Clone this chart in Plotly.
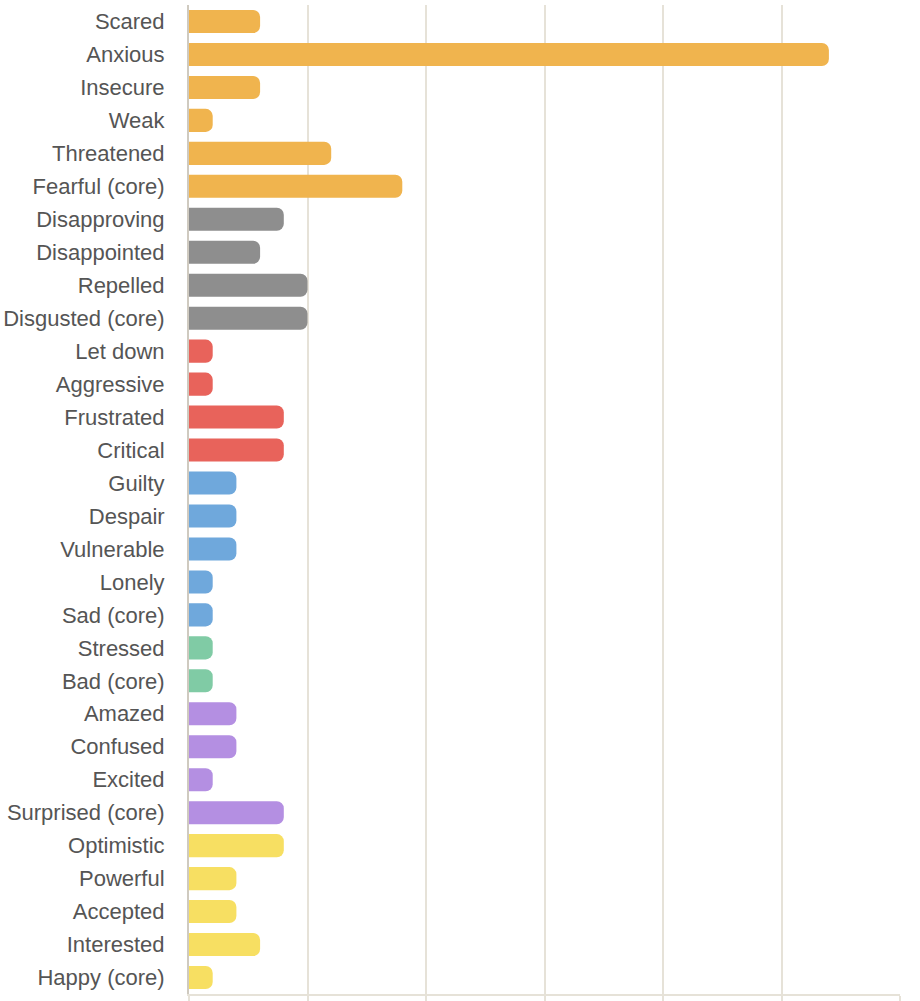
import plotly.graph_objects as go

# data
emotions = ["Scared", "Anxious", "Insecure", "Weak", "Threatened", "Fearful (core)",
            "Disapproving", "Disappointed", "Repelled", "Disgusted (core)",
            "Let down", "Aggressive", "Frustrated", "Critical",
            "Guilty", "Despair", "Vulnerable", "Lonely", "Sad (core)",
            "Stressed", "Bad (core)",
            "Amazed", "Confused", "Excited", "Surprised (core)",
            "Optimistic", "Powerful", "Accepted", "Interested", "Happy (core)"]
counts = [3, 27, 3, 1, 6, 9,
          4, 3, 5, 5,
          1, 1, 4, 4,
          2, 2, 2, 1, 1,
          1, 1,
          2, 2, 1, 4,
          4, 2, 2, 3, 1]
groups = ["Fearful"] * 6 + ["Disgusted"] * 4 + ["Angry"] * 4 + ["Sad"] * 5 + \
         ["Bad"] * 2 + ["Surprised"] * 4 + ["Happy"] * 5

group_colors = {
    "Fearful": "#F0B44E",
    "Disgusted": "#8E8E8E",
    "Angry": "#E8635B",
    "Sad": "#6FA8DC",
    "Bad": "#80CBA5",
    "Surprised": "#B48FE2",
    "Happy": "#F7DF62",
}

fig = go.Figure(go.Bar(
    x=counts, y=emotions, orientation="h",
    marker=dict(color=[group_colors[g] for g in groups], line=dict(width=0)),
    hoverinfo="x+y",
))

fig.update_layout(
    width=920, height=1001,
    margin=dict(l=189, r=20, t=5, b=7),
    paper_bgcolor="white", plot_bgcolor="white",
    bargap=0.3, barcornerradius=7,
    showlegend=False,
    font=dict(family="Liberation Sans, Arial, sans-serif", size=22, color="#555555"),
)
fig.update_xaxes(range=[0, 30], dtick=5, showgrid=True, gridcolor="#E6E2D8", gridwidth=2,
                 showticklabels=False, ticks="outside", ticklen=7, tickcolor="#E6E2D8",
                 tickwidth=2, zeroline=False, showline=True, linecolor="#E6E2D8", linewidth=2,
                 automargin=False)
fig.update_yaxes(autorange="reversed", ticks="", ticklabelstandoff=18, showline=True,
                 linecolor="#CFCAC0", linewidth=2, showgrid=False, automargin=False)

# drop the default 8px body margin so the chart sits flush in the window
fig.write_html("out.html", config={"displayModeBar": False},
               post_script="document.body.style.margin='0';")
